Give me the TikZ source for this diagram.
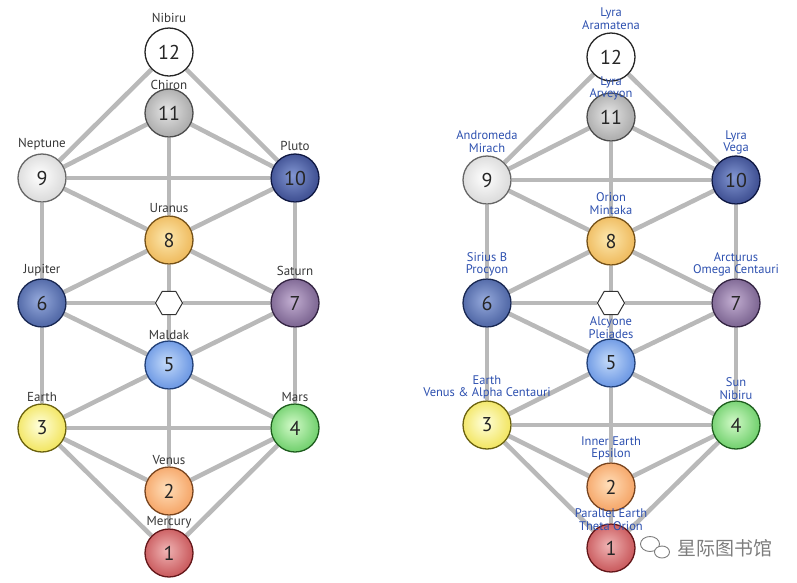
\documentclass[tikz,border=0pt]{standalone}
\usepackage{fontspec}
\setmainfont{PT Sans}
\newfontfamily\cjkfont{Noto Sans CJK SC}
\usetikzlibrary{shapes.geometric, positioning, backgrounds}

\definecolor{edgegray}{RGB}{185,185,185}
\definecolor{planetlbl}{RGB}{55,55,55}
\definecolor{starlbl}{RGB}{45,80,175}
\definecolor{markgray}{RGB}{125,125,125}
\definecolor{navyin}{RGB}{130,150,210}   \definecolor{navyout}{RGB}{25,40,110}
\definecolor{slatein}{RGB}{150,170,220}  \definecolor{slateout}{RGB}{40,65,135}
\definecolor{plumin}{RGB}{195,175,210}   \definecolor{plumout}{RGB}{85,60,110}
\definecolor{amberin}{RGB}{252,232,175}  \definecolor{amberout}{RGB}{232,162,50}
\definecolor{skyin}{RGB}{195,218,250}    \definecolor{skyout}{RGB}{60,115,215}
\definecolor{lemonin}{RGB}{255,255,220}  \definecolor{lemonout}{RGB}{235,215,30}
\definecolor{grassin}{RGB}{210,250,200}  \definecolor{grassout}{RGB}{60,185,60}
\definecolor{peachin}{RGB}{255,222,185}  \definecolor{peachout}{RGB}{240,135,60}
\definecolor{rubyin}{RGB}{240,180,180}   \definecolor{rubyout}{RGB}{180,40,45}

\colorlet{ballin}{white}
\colorlet{ballout}{gray}
\pgfdeclareradialshading[ballin,ballout]{sphere}{\pgfpoint{-3bp}{3bp}}{color(0bp)=(ballin); color(22bp)=(ballin!45!ballout); color(44bp)=(ballout); color(50bp)=(ballout)}

\begin{document}
\begin{tikzpicture}[
    x=1pt, y=-1pt,
    orb/.style n args={3}{circle, minimum size=48pt, inner sep=0pt, draw=#3, line width=1.3pt,
        /utils/exec={\colorlet{ballin}{#1}\colorlet{ballout}{#2}}, shading=sphere,
        font=\fontsize{20}{20}\selectfont, text=black!85},
    hub/.style={regular polygon, regular polygon sides=6, minimum size=27pt, inner sep=0pt, draw=black!80, fill=white, line width=1pt},
    planet/.style={font=\fontsize{13}{13}\selectfont, text=planetlbl, inner sep=0pt},
    star/.style={font=\fontsize{12.5}{12.5}\selectfont, text=starlbl, align=center, inner sep=0pt},
    line/.style={draw=edgegray, line width=4.5pt}
]
\useasboundingbox (0,0) rectangle (797,582);

% Left tree: planets
\begin{scope}[name prefix=L-]
\node[orb={white}{white}{black!85}] (12) at (169,52) {12};
\node[orb={black!10}{black!45}{black!70}] (11) at (169,113) {11};
\node[orb={white}{black!22}{black!60}] (9) at (42,178) {9};
\node[orb={navyin}{navyout}{navyout!60!black}] (10) at (295,178) {10};
\node[orb={amberin}{amberout}{amberout!50!black}] (8) at (169,240) {8};
\node[orb={slatein}{slateout}{slateout!60!black}] (6) at (42,303) {6};
\node[hub] (h) at (169,303) {};
\node[orb={plumin}{plumout}{plumout!60!black}] (7) at (295,303) {7};
\node[orb={skyin}{skyout}{skyout!55!black}] (5) at (169,365) {5};
\node[orb={lemonin}{lemonout}{lemonout!45!black}] (3) at (42,428) {3};
\node[orb={grassin}{grassout}{grassout!50!black}] (4) at (295,428) {4};
\node[orb={peachin}{peachout}{peachout!50!black}] (2) at (169,491) {2};
\node[orb={rubyin}{rubyout}{rubyout!55!black}] (1) at (169,553) {1};

\node[planet, above=4pt of 12] (12t) {Nibiru};
\node[planet, above=-2pt of 11] (11t) {Chiron};
\node[planet, above=3pt of 9] (9t) {Neptune};
\node[planet, above=3pt of 10] (10t) {Pluto};
\node[planet, above=3pt of 8] (8t) {Uranus};
\node[planet, above=2pt of 6] (6t) {Jupiter};
\node[planet, above=3pt of 7] (7t) {Saturn};
\node[planet, above=1pt of 5] (5t) {Maldak};
\node[planet, above=2pt of 3] (3t) {Earth};
\node[planet, above=2pt of 4] (4t) {Mars};
\node[planet, above=2pt of 2] (2t) {Venus};
\node[planet, above=0pt of 1] (1t) {Mercury};

\begin{scope}[on background layer]
\foreach \a/\b in {12/9, 12/10, 11/9, 11/10, 11/8, 9/10, 9/8, 10/8, 9/6, 10/7, 8/6, 8/7, 8/h, 6/h, h/7,
                   6/5, 7/5, h/5, 6/3, 7/4, 5/3, 5/4, 5/2, 3/4, 3/2, 4/2, 3/1, 4/1, 2/1}
  \path[line] (\a) -- (\b);
\end{scope}
\end{scope}

% Right tree: star systems
\begin{scope}[name prefix=R-]
\node[orb={white}{white}{black!85}] (12) at (611,57) {12};
\node[orb={black!10}{black!45}{black!70}] (11) at (611,117) {11};
\node[orb={white}{black!22}{black!60}] (9) at (487,180) {9};
\node[orb={navyin}{navyout}{navyout!60!black}] (10) at (736,180) {10};
\node[orb={amberin}{amberout}{amberout!50!black}] (8) at (611,241) {8};
\node[orb={slatein}{slateout}{slateout!60!black}] (6) at (487,303) {6};
\node[hub] (h) at (611,303) {};
\node[orb={plumin}{plumout}{plumout!60!black}] (7) at (736,303) {7};
\node[orb={skyin}{skyout}{skyout!55!black}] (5) at (611,363) {5};
\node[orb={lemonin}{lemonout}{lemonout!45!black}] (3) at (487,425) {3};
\node[orb={grassin}{grassout}{grassout!50!black}] (4) at (736,425) {4};
\node[orb={peachin}{peachout}{peachout!50!black}] (2) at (611,487) {2};
\node[orb={rubyin}{rubyout}{rubyout!55!black}] (1) at (611,548) {1};

\node[star, above=3pt of 12] (12t) {Lyra\\Aramatena};
\node[star, above=-8pt of 11] (11t) {Lyra\\Arveyon};
\node[star, above=3pt of 9] (9t) {Andromeda\\Mirach};
\node[star, above=1pt of 10] (10t) {Lyra\\Vega};
\node[star, above=2pt of 8] (8t) {Orion\\Mintaka};
\node[star, above=2pt of 6] (6t) {Sirius B\\Procyon};
\node[star, above=2pt of 7] (7t) {Arcturus\\Omega Centauri};
\node[star, above=0pt of 5] (5t) {Alcyone\\Pleiades};
\node[star, above=1pt of 3] (3t) {Earth\\Venus \& Alpha Centauri};
\node[star, above=1pt of 4] (4t) {Sun\\Nibiru};
\node[star, above=2pt of 2] (2t) {Inner Earth\\Epsilon};
\node[star, above=-7pt of 1] (1t) {Parallel Earth\\Theta Orion};

\begin{scope}[on background layer]
\foreach \a/\b in {12/9, 12/10, 11/9, 11/10, 11/8, 9/10, 9/8, 10/8, 9/6, 10/7, 8/6, 8/7, 8/h, 6/h, h/7,
                   6/5, 7/5, h/5, 6/3, 7/4, 5/3, 5/4, 5/2, 3/4, 3/2, 4/2, 3/1, 4/1, 2/1}
  \path[line] (\a) -- (\b);
\end{scope}
\end{scope}

% watermark
\draw[markgray, line width=0.9pt, fill=white] (650,544) ellipse (9.5 and 7.5);
\draw[markgray, line width=0.9pt, fill=white] (662,552) ellipse (7.5 and 6);
\node[font=\cjkfont\fontsize{19}{19}\selectfont, text=markgray, inner sep=0pt] (mark) at (725,548) {星际图书馆};

\end{tikzpicture}
\end{document}
